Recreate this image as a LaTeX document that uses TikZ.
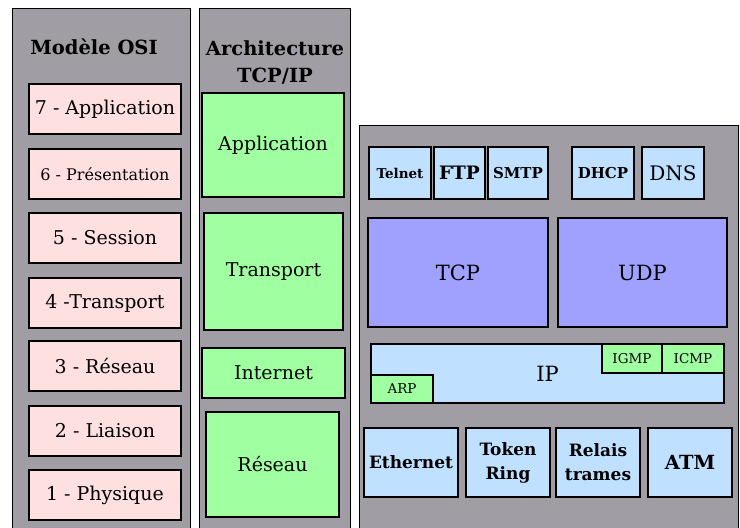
\documentclass[tikz,border=0pt]{standalone}
\usepackage{fontspec}
\setmainfont{DejaVu Serif}
\begin{document}
\begin{tikzpicture}[x=1pt,y=-1pt]
\definecolor{panelcolor}{RGB}{160,158,164}
\definecolor{osicolor}{RGB}{255,224,224}
\definecolor{tcpipcolor}{RGB}{160,255,160}
\definecolor{protocolor}{RGB}{192,224,255}
\definecolor{transcolor}{RGB}{160,160,255}
\newcommand{\bigtext}{\fontsize{19}{22}\selectfont}
\newcommand{\smalltext}{\fontsize{15}{18}\selectfont}
\newcommand{\tinytext}{\fontsize{13.5}{16}\selectfont}
\tikzstyle{layer}=[draw,line width=1.2pt,rectangle,inner sep=0pt,align=center]
\tikzstyle{panel}=[draw,line width=0.8pt,fill=panelcolor,rectangle,inner sep=0pt]
\tikzstyle{osi}=[layer,fill=osicolor,minimum width=152,minimum height=50,font=\bigtext]
\tikzstyle{tcpip}=[layer,fill=tcpipcolor,font=\bigtext]
\tikzstyle{proto}=[layer,fill=protocolor,minimum height=52]
\tikzstyle{trans}=[layer,fill=transcolor,minimum height=109,font=\fontsize{21}{24}\selectfont]
\tikzstyle{sub}=[layer,fill=tcpipcolor,minimum width=62,minimum height=29,font=\tinytext]
\tikzstyle{link}=[layer,fill=protocolor,minimum width=84,minimum height=69,font=\bfseries\fontsize{17}{24}\selectfont]
\tikzstyle{title}=[font=\bfseries\fontsize{19.5}{27}\selectfont,align=center]
\useasboundingbox (0,0) rectangle (740,528);
% panels
\node[panel,minimum width=178,minimum height=527] (osipanel) at (101,271.5) {};
\node[panel,minimum width=151,minimum height=527] (tcpippanel) at (274.5,271.5) {};
\node[panel,minimum width=379,minimum height=410] (protopanel) at (548.5,330) {};
\node[title] (osititle) at (94,47) {Modèle OSI};
\node[title] (tcpiptitle) at (275,62) {Architecture\\TCP/IP};
% OSI model
\node[osi] (osi7) at (105,109) {7 - Application};
\node[osi,font=\fontsize{16}{20}\selectfont] (osi6) at (105,174) {6 - Présentation};
\node[osi] (osi5) at (105,238) {5 - Session};
\node[osi] (osi4) at (105,303) {4 -Transport};
\node[osi] (osi3) at (105,366) {3 - Réseau};
\node[osi] (osi2) at (105,431) {2 - Liaison};
\node[osi] (osi1) at (105,495) {1 - Physique};
% TCP/IP architecture
\node[tcpip,minimum width=142,minimum height=104] (application) at (273,145) {Application};
\node[tcpip,minimum width=139,minimum height=117] (transport) at (273.5,271.5) {Transport};
\node[tcpip,minimum width=143,minimum height=50] (internet) at (273.5,373) {Internet};
\node[tcpip,minimum width=133,minimum height=105] (reseau) at (272.5,464.5) {Réseau};
% protocols
\node[proto,minimum width=62,font=\bfseries\fontsize{13.5}{16}\selectfont] (telnet) at (400,173) {Telnet};
\node[proto,minimum width=51,font=\bfseries\fontsize{18.5}{22}\selectfont] (ftp) at (459.5,173) {FTP};
\node[proto,minimum width=60,font=\bfseries\smalltext] (smtp) at (518,173) {SMTP};
\node[proto,minimum width=62,font=\bfseries\smalltext] (dhcp) at (603,173) {DHCP};
\node[proto,minimum width=62,font=\fontsize{20}{24}\selectfont] (dns) at (673,173) {DNS};
\node[trans,minimum width=180] (tcp) at (458,272.5) {TCP};
\node[trans,minimum width=169] (udp) at (642.5,272.5) {UDP};
\node[layer,fill=protocolor,minimum width=353,minimum height=59,font=\fontsize{21}{24}\selectfont] (ip) at (547.5,373.5) {IP};
\node[sub,minimum width=60] (igmp) at (632,358.5) {IGMP};
\node[sub] (icmp) at (693,358.5) {ICMP};
\node[sub,minimum height=28] (arp) at (402,389) {ARP};
\node[link,minimum width=94] (ethernet) at (411,462.5) {Ethernet};
\node[link] (tokenring) at (508,462.5) {Token\\Ring};
\node[link] (relais) at (598,462.5) {Relais\\trames};
\node[link,font=\bfseries\fontsize{19.5}{24}\selectfont] (atm) at (690,462.5) {ATM};
\end{tikzpicture}
\end{document}
